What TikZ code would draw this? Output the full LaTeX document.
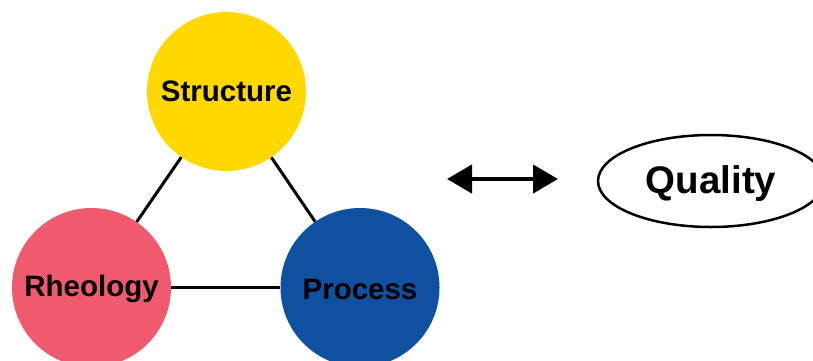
\documentclass[tikz,border=0pt]{standalone}
\usepackage{fontspec}
\setmainfont{Liberation Sans}
\usetikzlibrary{arrows.meta,shapes.geometric}
\definecolor{cyellow}{HTML}{FFD800}
\definecolor{cpink}{HTML}{F05A6E}
\definecolor{cblue}{HTML}{1050A0}
\tikzset{
  ball/.style={circle,minimum size=159pt,inner sep=0pt,font=\fontsize{29.5pt}{32pt}\selectfont\bfseries},
  link/.style={line width=3pt,black},
}
\begin{document}
\begin{tikzpicture}[x=1pt,y=1pt]
\useasboundingbox[fill=white] (0,0) rectangle (813,-360);
\begin{scope}
\clip (0,0) rectangle (813,-360);
\node[ball,fill=cyellow] (S) at (226.5,-91.5) {Structure};
\node[ball,fill=cpink,text depth=4pt] (R) at (91.5,-287.5) {Rheology};
\node[ball,fill=cblue,text height=23.5pt,text depth=0pt] (P) at (360,-287.5) {Process};
\draw[link] (S) -- (R);
\draw[link] (S) -- (P);
\draw[link] (R) -- (P);
\node[ellipse,draw,line width=2.5pt,minimum width=226pt,minimum height=92pt,inner sep=0pt,text depth=2pt,font=\fontsize{38.5pt}{40pt}\selectfont\bfseries] (Q) at (711,-181) {Quality};
\coordinate (a1) at (447,-179);
\coordinate (a2) at (558,-179);
\draw[line width=4.5pt,{Triangle[length=25pt,width=28pt]}-{Triangle[length=25pt,width=28pt]}] (a1) -- (a2);
\end{scope}
\end{tikzpicture}
\end{document}
